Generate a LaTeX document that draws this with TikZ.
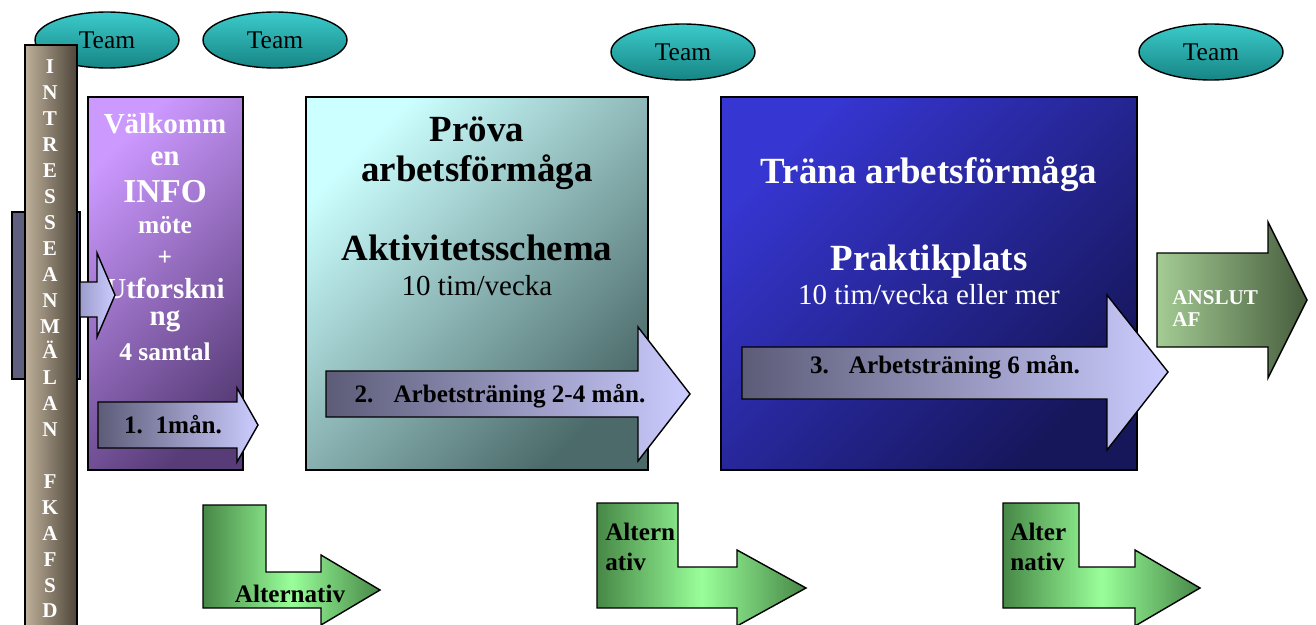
\documentclass[tikz,border=0pt]{standalone}
\usepackage{fontspec}
\setmainfont{Liberation Serif}
\usetikzlibrary{shapes.geometric}

\definecolor{teamtop}{HTML}{3CCACA}
\definecolor{teambot}{HTML}{168585}
\definecolor{barlight}{HTML}{BEB09A}
\definecolor{bardark}{HTML}{4E463A}
\definecolor{slate}{HTML}{5F5F80}
\definecolor{lavender}{HTML}{CCCCFF}
\definecolor{lavdark}{HTML}{9C9CCC}
\definecolor{arrowdark}{HTML}{5C5C78}
\definecolor{violetlight}{HTML}{CC99FF}
\definecolor{violetdark}{HTML}{583C78}
\definecolor{cyanlight}{HTML}{CCFFFF}
\definecolor{cyandark}{HTML}{4C6A6A}
\definecolor{bluelight}{HTML}{3636D2}
\definecolor{bluedark}{HTML}{16165A}
\definecolor{afgreen}{HTML}{A4CC94}
\definecolor{afdark}{HTML}{465C3C}
\definecolor{altlight}{HTML}{99FF99}
\definecolor{altdark}{HTML}{478747}

\newcommand{\fsz}[1]{\fontsize{#1}{#1}\selectfont}

\tikzset{
    box/.style={draw=black, line width=0.8pt},
    team/.style={ellipse, draw=black, line width=0.8pt, top color=teamtop, bottom color=teambot,
        minimum width=2.88cm, minimum height=1.12cm, inner sep=0pt, font=\fsz{14.5pt}},
    barletter/.style={anchor=base, text=white, font=\bfseries\fsz{12pt}},
    whitehead/.style={anchor=base, text=white, font=\bfseries\fsz{#1}},
    blackhead/.style={anchor=base, text=black, font=\bfseries\fsz{#1}},
    plain/.style={anchor=base, text=#1, font=\fsz{16.5pt}},
    steplabel/.style={anchor=base, font=\bfseries\fsz{14.3pt}},
    altlabel/.style={anchor=base west, inner sep=0pt, font=\bfseries\fsz{14.3pt}},
    altarrow/.style={box, left color=altdark, right color=altdark, middle color=altlight},
    steparrow/.style={box, left color=arrowdark, right color=lavender}
}

\begin{document}
\begin{tikzpicture}[x=0.02cm, y=-0.02cm]
        \useasboundingbox (0,0) rectangle (1316,625);
        \clip (0,0) rectangle (1316,625);
        \fill[white] (0,0) rectangle (1316,625);

        % Team ellipses
        \node[team] (team1) at (107,40) {Team};
        \node[team] (team2) at (275,40) {Team};
        \node[team] (team3) at (683,52) {Team};
        \node[team] (team4) at (1211,52) {Team};

        % Intake block and vertical bar
        \draw[box, fill=slate] (12,212) rectangle (80,379);
        \draw[box, left color=barlight, right color=bardark] (25,45) rectangle (77,645);
        \foreach \ch [count=\i from 0] in {I,N,T,R,E,S,S,E,A,N,M,Ä,L,A,N,{},F,K,A,F,S,D}
            \node[barletter] (bar\i) at (50,{74+25.9*\i}) {\ch};

        % Step 1: welcome
        \draw[box, top color=violetlight, bottom color=violetdark, shading angle=45] (88,97) rectangle (243,470);
        \node[whitehead=16.5pt] (v1) at (165,133) {Välkomm};
        \node[whitehead=16.5pt] (v2) at (165,166) {en};
        \node[whitehead=19pt] (v3) at (165,202) {INFO};
        \node[whitehead=14.5pt] (v4) at (165,234) {möte};
        \node[whitehead=14.5pt] (v5) at (165,265) {+};
        \node[whitehead=16.5pt] (v6) at (165,298) {Utforskni};
        \node[whitehead=16.5pt] (v7) at (165,325) {ng};
        \node[whitehead=14.5pt] (v8) at (165,360) {4 samtal};
        \draw[box, left color=lavdark, right color=lavender]
            (80,282) -- (97,282) -- (97,253) -- (115,295) -- (97,337) -- (97,317) -- (80,317) -- cycle;
        \draw[steparrow] (98,402) -- (237,402) -- (237,388) -- (258,425) -- (237,462) -- (237,448) -- (98,448) -- cycle;
        \node[steplabel] (a1) at (173,433) {1.~~1mån.};

        % Step 2: test
        \draw[box, top color=cyanlight, bottom color=cyandark, shading angle=45] (306,97) rectangle (648,470);
        \node[blackhead=21pt] (p1) at (477,142) {Pröva};
        \node[blackhead=21pt] (p2) at (477,182) {arbetsförmåga};
        \node[blackhead=21pt] (p3) at (477,260) {Aktivitetsschema};
        \node[plain=black] (p4) at (477,296) {10 tim/vecka};
        \draw[steparrow] (326,371) -- (638,371) -- (638,327) -- (690,394) -- (638,461) -- (638,417) -- (326,417) -- cycle;
        \node[steplabel] (a2) at (500,402) {2.\hspace{0.8em}Arbetsträning 2-4 mån.};

        % Step 3: train
        \draw[box, top color=bluelight, bottom color=bluedark, shading angle=45] (721,97) rectangle (1137,470);
        \node[whitehead=21pt] (t1) at (929,184) {Träna arbetsförmåga};
        \node[whitehead=21pt] (t2) at (929,270) {Praktikplats};
        \node[plain=white] (t3) at (929,304) {10 tim/vecka eller mer};
        \draw[steparrow] (742,347) -- (1107,347) -- (1107,295) -- (1168,372) -- (1107,450) -- (1107,399) -- (742,399) -- cycle;
        \node[steplabel] (a3) at (945,373) {3.\hspace{0.8em}Arbetsträning 6 mån.};

        % Exit arrow
        \draw[box, left color=afgreen, right color=afdark]
            (1157,253) -- (1268,253) -- (1268,222) -- (1307,300) -- (1268,378) -- (1268,347) -- (1157,347) -- cycle;
        \node[altlabel, text=white, font=\bfseries\fsz{12pt}] (af1) at (1172,304) {ANSLUT};
        \node[altlabel, text=white, font=\bfseries\fsz{12pt}] (af2) at (1172,326) {AF};

        % Alternatives
        \draw[altarrow] (203,505) -- (266,505) -- (266,572) -- (321,572) -- (321,555) -- (380,590)
            -- (321,625) -- (321,608) -- (203,608) -- cycle;
        \node[steplabel] (alt1) at (290,602) {Alternativ};
        \draw[altarrow] (597,503) -- (678,503) -- (678,567) -- (737,567) -- (737,550) -- (806,588)
            -- (737,626) -- (737,608) -- (597,608) -- cycle;
        \node[altlabel] (alt2a) at (605,540) {Altern};
        \node[altlabel] (alt2b) at (605,570) {ativ};
        \draw[altarrow] (1003,503) -- (1079,503) -- (1079,567) -- (1135,567) -- (1135,550) -- (1200,588)
            -- (1135,626) -- (1135,608) -- (1003,608) -- cycle;
        \node[altlabel] (alt3a) at (1010,540) {Alter};
        \node[altlabel] (alt3b) at (1010,570) {nativ};
\end{tikzpicture}
\end{document}
